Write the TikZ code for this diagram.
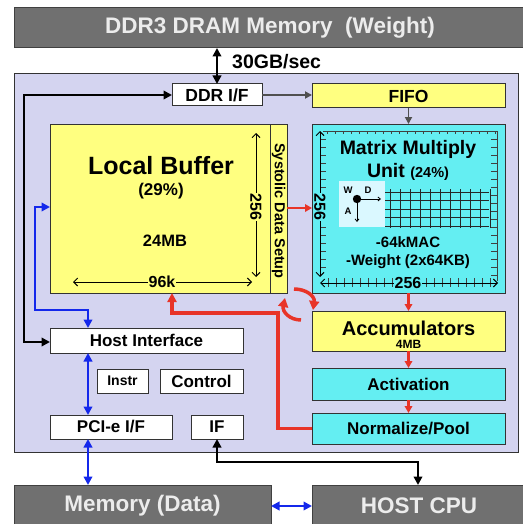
\documentclass[tikz,border=0pt]{standalone}
\usepackage{fontspec}
\setmainfont{Liberation Sans}
\usetikzlibrary{arrows.meta,calc}
\definecolor{dgrey}{RGB}{112,112,112}
\definecolor{lav}{RGB}{212,212,240}
\definecolor{yel}{RGB}{255,255,128}
\definecolor{cya}{RGB}{100,238,242}
\definecolor{lcya}{RGB}{218,248,255}
\definecolor{rd}{RGB}{232,52,40}
\definecolor{bl}{RGB}{20,40,235}
\definecolor{lgt}{RGB}{236,236,236}
\definecolor{agrey}{RGB}{80,80,80}
\newcommand{\fsz}[1]{\fontsize{#1}{#1}\selectfont\bfseries}
\begin{document}
\begin{tikzpicture}[x=1pt,y=-1pt,
  box/.style={draw=black!80,line width=1pt,inner sep=0pt,outer sep=0pt,align=center,font=\fsz{17}},
  wbox/.style={box,fill=white},
  ybox/.style={box,fill=yel},
  cbox/.style={box,fill=cya},
  gbox/.style={box,fill=dgrey,draw=black!75,text=lgt,font=\fsz{22.5}},
  tri/.tip={Triangle[length=8.5pt,width=8.5pt]},
  blk/.style={line width=2.4pt,draw=black,tri-tri},
  blu/.style={line width=2.4pt,draw=bl,tri-tri},
  gar/.style={line width=1.8pt,draw=agrey,-{Triangle[length=7pt,width=7pt]}},
  rar/.style={line width=2.2pt,draw=rd,-{Triangle[length=7pt,width=7.5pt]}},
  rbig/.style={line width=3.5pt,draw=rd,-{Triangle[length=9pt,width=9pt]}},
  dimarr/.style={line width=1pt,draw=black,{Straight Barb[length=4pt,width=8pt]}-{Straight Barb[length=4pt,width=8pt]}},
  tick/.style={line width=0.7pt,draw=black!75},
  lbl/.style={inner sep=0pt,font=\fsz{16}}
]
\useasboundingbox (0,0) rectangle (522,524);
% backgrounds
\node[box,fill=lav,minimum width=504,minimum height=378] (main) at (266,263) {};
\node[gbox,minimum width=512,minimum height=40] (ddr3) at (270,28) {DDR3 DRAM Memory\ \ (Weight)};
\node[gbox,minimum width=257,minimum height=42] (memd) at (142.5,506) {Memory (Data)};
\node[gbox,minimum width=214,minimum height=42] (hostcpu) at (419,506) {HOST CPU};

% top row
\node[wbox,minimum width=90,minimum height=22,font=\fsz{17.5}] (ddrif) at (217,95) {DDR I/F};
\node[ybox,minimum width=193,minimum height=24,font=\fsz{17.5}] (fifo) at (408.5,96) {FIFO};
\node[font=\fsz{19.5},inner sep=0pt,anchor=west] (bw) at (232,62) {30GB/sec};

% local buffer
\node[ybox,minimum width=220,minimum height=169] (lb) at (160,208.5) {};
\node[ybox,minimum width=17,minimum height=169] (sds) at (278.5,208.5) {};
\node[rotate=-90,inner sep=0pt,font=\fsz{14.5}] (sdst) at (278.5,211) {Systolic Data Setup};
\node[inner sep=0pt,font=\fsz{25}] (lbt) at (161,166) {Local Buffer};
\node[inner sep=0pt,font=\fsz{17}] (lbp) at (161,191) {(29\%)};
\node[inner sep=0pt,font=\fsz{16.5}] (lbm) at (165,241) {24MB};
\coordinate (lbv1) at (256,133);
\coordinate (lbv2) at (256,277);
\coordinate (lbh1) at (73,282);
\coordinate (lbh2) at (252,282);
\draw[dimarr] (lbv1) -- (lbv2);
\draw[dimarr] (lbh1) -- (lbh2);
\node[lbl,rotate=-90,fill=yel,inner sep=1pt] (lb256) at (256,207) {256};
\node[lbl,fill=yel,inner sep=1pt] (lb96) at (162,282) {96k};

% matrix multiply unit
\node[cbox,minimum width=193,minimum height=169] (mmu) at (408.5,208.5) {};
\draw[tick] (323,131) -- (497,131);
\foreach \x in {327,335,...,495} \draw[tick] (\x,131) -- (\x,134);
\draw[tick] (497,131) -- (497,281);
\foreach \y in {139,147,...,275} \draw[tick] (491,\y) -- (497,\y);
\foreach \y in {139,147,...,271} \draw[tick] (320,\y) -- (326,\y);
\foreach \x in {328,336,...,392} \draw[tick] (\x,278) -- (\x,287);
\foreach \x in {426,434,...,490} \draw[tick] (\x,278) -- (\x,287);
\coordinate (mv1) at (320,131);
\coordinate (mv2) at (320,277);
\coordinate (mh1) at (320,283);
\coordinate (mh2) at (498,283);
\draw[dimarr] (mv1) -- (mv2);
\draw[dimarr] (mh1) -- (mh2);
\node[lbl,rotate=-90,fill=cya,inner sep=1pt] (m256a) at (320,207) {256};
\node[lbl,fill=cya,inner sep=1pt] (m256b) at (408,283) {256};
\node[inner sep=0pt,font=\fsz{19.5}] (mmut1) at (408,149) {Matrix Multiply};
\node[inner sep=0pt,font=\fsz{19.5}] (mmut2) at (408,172) {Unit {\fsz{14.5}(24\%)}};
\node[inner sep=0pt,font=\fsz{15}] (mmut3) at (408,242) {-64kMAC};
\node[inner sep=0pt,font=\fsz{15}] (mmut4) at (408,262) {-Weight (2x64KB)};
% grid
\foreach \x in {390,400,...,490} \draw[line width=0.8pt,draw=black!85] (\x,189) -- (\x,228);
\foreach \y in {192,200.5,209,217.5,226} \draw[line width=0.8pt,draw=black!85] (385,\y) -- (489,\y);
\node[fill=lcya,inner sep=0pt,minimum width=46,minimum height=46] (wda) at (362,203.5) {};
\coordinate (dot) at (357,199);
\coordinate (dend) at (381,199);
\coordinate (aend) at (357,222);
\draw[line width=0.8pt,-{Straight Barb[length=2.5pt,width=4pt]}] (dot) -- (dend);
\draw[line width=0.8pt,-{Straight Barb[length=2.5pt,width=4pt]}] (dot) -- (aend);
\fill (dot) circle (4.2);
\node[inner sep=0pt,font=\fsz{9.5}] (wl) at (348,190) {W};
\node[inner sep=0pt,font=\fsz{9.5}] (dl) at (368,190) {D};
\node[inner sep=0pt,font=\fsz{9.5}] (al) at (348,211) {A};

% pipeline
\node[ybox,minimum width=193,minimum height=40] (acc) at (408.5,331) {};
\node[inner sep=0pt,font=\fsz{20}] (acct) at (408.5,328) {Accumulators};
\node[inner sep=0pt,font=\fsz{12}] (accm) at (408.5,344) {4MB};
\node[cbox,minimum width=193,minimum height=32] (act) at (408.5,384) {Activation};
\node[cbox,minimum width=193,minimum height=31] (norm) at (408.5,428.5) {Normalize/Pool};

% left column
\node[wbox,minimum width=193,minimum height=25] (hostif) at (146.5,340.5) {Host Interface};
\node[wbox,minimum width=51,minimum height=24,font=\fsz{14}] (instr) at (122.5,381) {Instr};
\node[wbox,minimum width=83,minimum height=24] (control) at (201.5,381) {Control};
\node[wbox,minimum width=122,minimum height=24] (pcie) at (111,427) {PCI-e I/F};
\node[wbox,minimum width=52,minimum height=24] (ifb) at (217,427) {IF};

% connectors
\draw[blk] (ddrif.north) -- (ddrif.north |- ddr3.south);
\draw[gar] (ddrif.east) -- (ddrif.east -| fifo.west);
\draw[gar] (fifo.south) -- (mmu.north);
\draw[rar] (sds.east |- 0,208) -- (mmu.west |- 0,208);
\draw[rar] (mmu.south) -- (acc.north);
\draw[rar] (acc.south) -- (act.north);
\draw[rar] (act.south) -- (norm.north);
\coordinate (r1) at (278,428.5);
\coordinate (r2) at (278,313);
\coordinate (r3) at (172,313);
\draw[rbig] (norm.west) -- (r1) -- (r2) -- (r3) -- (r3 |- lb.south);
\draw[rbig,-{Triangle[length=9pt,width=10pt]}] (294,289) .. controls (306,289) and (315,296) .. (313,310);
\draw[rbig,-{Triangle[length=9pt,width=10pt]}] (301,320) .. controls (290,320) and (282,312) .. (285,298);
\coordinate (k1) at (24,342);
\draw[blk] (hostif.west |- k1) -- (k1) |- (ddrif.west);
\coordinate (b1) at (88,310);
\coordinate (b2) at (35,310);
\coordinate (b3) at (35,207);
\draw[blu] (b1 |- hostif.north) -- (b1) -- (b2) -- (b3) -- (b3 -| lb.west);
\coordinate (b4) at (88,400);
\draw[blu] (b4 |- hostif.south) -- (b4 |- pcie.north);
\draw[blu] (b4 |- pcie.south) -- (b4 |- memd.north);
\coordinate (b5) at (290,506);
\draw[blu] (b5 -| memd.east) -- (b5 -| hostcpu.west);
\coordinate (c1) at (217,462);
\coordinate (c2) at (418,462);
\draw[blk] (ifb.south) -- (c1) -- (c2) -- (c2 |- hostcpu.north);
\end{tikzpicture}
\end{document}
